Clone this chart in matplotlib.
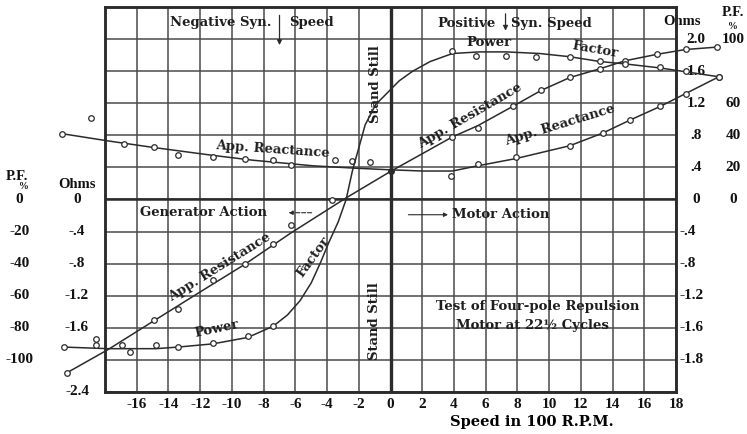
import numpy as np
import matplotlib.pyplot as plt

# speed in 100 r.p.m. (negative = driven backwards), ohms and power factor in per cent
react_speed = [-20.7, -17.8, -15.0, -11.2, -8.7, -4.9, -2.2, 0.0, 2.0, 3.9, 5.5, 7.9, 11.3, 13.4, 15.1, 17.0, 18.6, 20.7]
react_ohms = [0.82, 0.73, 0.65, 0.55, 0.49, 0.42, 0.39, 0.37, 0.355, 0.355, 0.42, 0.51, 0.67, 0.83, 0.99, 1.16, 1.32, 1.53]
react_pt_speed = [-20.7, -18.9, -16.8, -14.9, -13.4, -11.2, -9.2, -7.4, -6.3, -3.5, -2.4, -1.3,
                  3.8, 5.5, 7.9, 11.3, 13.4, 15.1, 17.0, 18.6, 20.7]
react_pt_ohms = [0.82, 1.02, 0.69, 0.66, 0.55, 0.53, 0.51, 0.49, 0.43, 0.49, 0.48, 0.47,
                 0.29, 0.44, 0.53, 0.67, 0.83, 0.99, 1.16, 1.32, 1.53]

resist_speed = [-20.4, -17.8, -14.9, -11.9, -9.2, -6.3, -2.8, 0.0, 3.9, 5.5, 7.7, 9.5, 11.3, 13.2, 14.8, 16.8, 18.6, 20.6]
resist_ohms = [-2.16, -1.87, -1.51, -1.14, -0.81, -0.42, 0.02, 0.35, 0.78, 0.92, 1.16, 1.36, 1.52, 1.63, 1.73, 1.81, 1.87, 1.90]
resist_pt_speed = [-20.4, -14.9, -13.4, -11.2, -9.2, -7.4, -6.3, -3.7,
                   3.9, 5.5, 7.7, 9.5, 11.3, 13.2, 14.8, 16.8, 18.6, 20.6]
resist_pt_ohms = [-2.16, -1.50, -1.37, -1.00, -0.80, -0.56, -0.32, -0.01,
                  0.78, 0.89, 1.16, 1.36, 1.53, 1.63, 1.73, 1.81, 1.87, 1.90]

pf_speed = [-20.6, -17.8, -14.8, -13.4, -11.2, -9.0, -7.4, -6.5, -5.7, -5.0, -4.4, -3.9, -3.3, -2.8,
            -2.4, -1.95, -1.6, -0.95, -0.05, 0.55, 1.4, 2.5, 3.9, 5.6, 7.3, 9.4, 11.3, 13.2, 14.8, 17.0, 18.6, 20.7]
pf_pct = [-92, -93, -93, -92, -90, -86, -79, -72, -63, -52, -39, -27, -14, 0,
          18, 34, 46.5, 59, 68, 74, 80, 86, 91, 92, 92, 91, 89, 86, 84.5, 82, 79.6, 76.5]
pf_pt_speed = [-20.6, -18.6, -18.6, -16.9, -16.4, -14.8, -13.4, -11.2, -9.0, -7.4,
               3.9, 5.4, 7.3, 9.2, 11.3, 13.2, 14.8, 17.0, 18.6, 20.7]
pf_pt_pct = [-92, -87, -91, -91, -95, -91, -92, -89.5, -85, -79,
             92.4, 89.4, 89.4, 88.7, 88.7, 86.3, 84.5, 82.6, 80.2, 76.5]

speed_ticks = list(range(-18, 19, 2))
speed_labels = [''] + [str(s) for s in speed_ticks[1:]]
ohm_left = [0, -0.4, -0.8, -1.2, -1.6, -2.4]
ohm_left_lbl = ['0', '-.4', '-.8', '-1.2', '-1.6', '-2.4']
pf_left = [0, -20, -40, -60, -80, -100]
ohm_right = [2.0, 1.6, 1.2, 0.8, 0.4, 0]
ohm_right_lbl = ['2.0', '1.6', '1.2', '.8', '.4', '0']
ohm_right_neg = [-0.4, -0.8, -1.2, -1.6, -2.0]
ohm_right_neg_lbl = ['-.4', '-.8', '-1.2', '-1.6', '-1.8']
pf_right = [100, 60, 40, 20, 0]

ink = '#2b2b2b'
serif = 'DejaVu Serif'
tick_font = dict(family='Liberation Serif', weight='bold', size=11, color='#111111')
head_font = dict(tick_font, size=10.5)
note_font = dict(family=serif, weight='bold', size=9.5, color='#1e1e1e')

fig = plt.figure(figsize=(7.47, 4.34), dpi=100)
ax = fig.add_axes([0.1406, 0.0968, 0.7644, 0.8871])
ax.set_xlim(-18, 18)
ax.set_ylim(-2.4, 2.4)
ax2 = ax.twinx()
ax2.set_ylim(-120, 120)
ax2.set_yticks([])

ax.set_xticks(speed_ticks)
ax.set_xticklabels(speed_labels, **tick_font)
ax.set_yticks(np.linspace(-2.4, 2.4, 13))
ax.set_yticklabels([])
ax.tick_params(length=0, pad=4)
ax.grid(True, color='#4a4a4a', lw=1.1)
ax.axvline(0, color=ink, lw=2.4)
ax.axhline(0, color=ink, lw=1.8)
for a in (ax, ax2):
    for sp in a.spines.values():
        sp.set_linewidth(1.8)
        sp.set_color(ink)

mk = dict(marker='o', ls='none', ms=4, mfc='white', mec=ink, mew=0.9, clip_on=False, zorder=4)
ax.plot(react_speed, react_ohms, color=ink, lw=1.1, clip_on=False, zorder=3)
ax.plot(react_pt_speed, react_pt_ohms, **mk)
ax.plot(resist_speed, resist_ohms, color=ink, lw=1.1, clip_on=False, zorder=3)
ax.plot(resist_pt_speed, resist_pt_ohms, **mk)
ax2.plot(pf_speed, pf_pct, color=ink, lw=1.1, clip_on=False, zorder=3)
ax2.plot(pf_pt_speed, pf_pt_pct, **mk)
ax.plot([0], [0.35], 'o', color=ink, ms=4, zorder=5)

# scale labels either side of the frame
ytr = ax.get_yaxis_transform()
ptr = ax2.get_yaxis_transform()
for v, s in zip(ohm_left, ohm_left_lbl):
    ax.text(-0.049, v, s, transform=ytr, ha='center', va='center', **tick_font)
for v in pf_left:
    ax2.text(-0.15, v, str(v), transform=ptr, ha='center', va='center', **tick_font)
for v, s in zip(ohm_right, ohm_right_lbl):
    ax.text(1.035, v, s, transform=ytr, ha='center', va='center', **tick_font)
for v, s in zip(ohm_right_neg, ohm_right_neg_lbl):
    ax.text(1.006, v, s, transform=ytr, ha='left', va='center', **tick_font)
for v in pf_right:
    ax2.text(1.10, v, str(v), transform=ptr, ha='center', va='center', **tick_font)
ax.text(-0.155, 0.29, 'P.F.', transform=ytr, ha='center', va='center', **head_font)
ax.text(-0.142, 0.165, '%', transform=ytr, ha='center', va='center', **dict(tick_font, size=7))
ax.text(-0.049, 0.19, 'Ohms', transform=ytr, ha='center', va='center', **head_font)
ax.text(1.01, 2.22, 'Ohms', transform=ytr, ha='center', va='center', **head_font)
ax.text(1.10, 2.33, 'P.F.', transform=ytr, ha='center', va='center', **head_font)
ax.text(1.10, 2.16, '%', transform=ytr, ha='center', va='center', **dict(tick_font, size=7))
fig.text(0.712, 0.028, 'Speed in 100 R.P.M.', ha='center', va='center',
         family=serif, weight='bold', size=10.5)

# synchronous speed markers
ax.text(-7.5, 2.21, 'Negative Syn.', ha='right', va='center', **note_font)
ax.text(-6.4, 2.21, 'Speed', ha='left', va='center', **note_font)
ax.annotate('', xy=(-7.0, 1.89), xytext=(-7.0, 2.33),
            arrowprops=dict(arrowstyle='-|>', color=ink, lw=0.9, mutation_scale=7))
ax.text(6.6, 2.20, 'Positive', ha='right', va='center', **note_font)
ax.text(7.6, 2.20, 'Syn. Speed', ha='left', va='center', **note_font)
ax.annotate('', xy=(7.25, 2.07), xytext=(7.25, 2.35),
            arrowprops=dict(arrowstyle='-|>', color=ink, lw=0.9, mutation_scale=7))

ax.text(-0.95, 1.44, 'Stand Still', rotation=90, ha='center', va='center', **note_font)
ax.text(-1.0, -1.51, 'Stand Still', rotation=90, ha='center', va='center', **note_font)

ax.text(-11.8, -0.165, 'Generator Action', ha='center', va='center', **note_font)
ax.annotate('', xy=(-6.6, -0.165), xytext=(-4.8, -0.165),
            arrowprops=dict(arrowstyle='-|>', color=ink, lw=0.8, ls='--', mutation_scale=6))
ax.annotate('', xy=(3.8, -0.19), xytext=(0.95, -0.19),
            arrowprops=dict(arrowstyle='-|>', color=ink, lw=0.8, mutation_scale=6))
ax.text(3.9, -0.19, 'Motor Action', ha='left', va='center', **note_font)

curve_notes = [
    ('App. Reactance', -7.44, 0.62, -4),
    ('App. Resistance', -10.78, -0.85, 32),
    ('Factor', -4.85, -0.72, 54),
    ('Power', -10.97, -1.61, 12),
    ('Power', 6.18, 1.96, 0),
    ('Factor', 12.9, 1.87, -10),
    ('App. Resistance', 4.98, 1.04, 30),
    ('App. Reactance', 10.66, 0.93, 17),
]
for s, x, y, rot in curve_notes:
    ax.text(x, y, s, rotation=rot, rotation_mode='anchor', ha='center', va='center', **note_font)

ax.text(9.27, -1.33, 'Test of Four-pole Repulsion', ha='center', va='center', **note_font)
ax.text(8.95, -1.575, 'Motor at 22½ Cycles', ha='center', va='center', **note_font)

fig.savefig('out.png', dpi=100, facecolor='white')
